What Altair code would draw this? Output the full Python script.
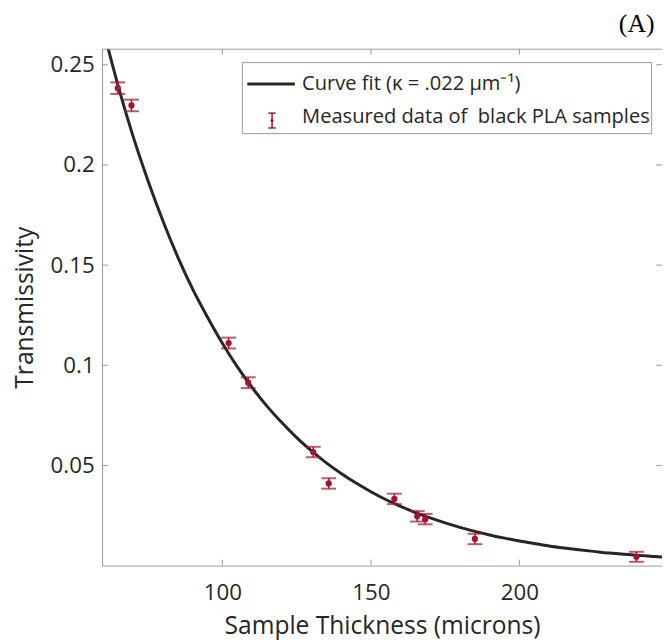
import altair as alt
import pandas as pd

# ---- data ----
thickness = [64.8, 69.4, 102.1, 108.7, 130.6, 135.8, 157.9, 165.6, 168.3, 185.0, 239.4]
transmissivity = [0.2383, 0.2297, 0.1111, 0.0913, 0.0567, 0.0410, 0.0333, 0.0246, 0.0232, 0.0133, 0.0044]
error = [0.0029, 0.0029, 0.0027, 0.0027, 0.0026, 0.0026, 0.0026, 0.0026, 0.0026, 0.0026, 0.0025]

fit_thickness = [59.5, 65, 70, 75, 80, 85, 90, 95, 100, 105, 110, 115, 120, 125, 130, 135,
                 140, 145, 150, 155, 160, 165, 170, 175, 180, 185, 190, 195, 200, 205,
                 210, 215, 220, 225, 230, 235, 240, 245, 250]
fit_transmissivity = [0.270, 0.239, 0.214, 0.192, 0.172, 0.154, 0.138, 0.124, 0.111, 0.0993,
                      0.0889, 0.0796, 0.0714, 0.0639, 0.0573, 0.0513, 0.0460, 0.0412, 0.0369,
                      0.0330, 0.0296, 0.0265, 0.0238, 0.0213, 0.0191, 0.0171, 0.0153, 0.0137,
                      0.0123, 0.0110, 0.0098, 0.0088, 0.0079, 0.0071, 0.0063, 0.0057, 0.0051,
                      0.0046, 0.0041]

x_ticks = [100, 150, 200]
y_ticks = [0.05, 0.1, 0.15, 0.2, 0.25]
legend_labels = ["Curve fit (\u03ba = .022 \u00b5m\u207b\u00b9)", "Measured data of\u00a0 black PLA samples"]
panel_label = "(A)"
x_title = "Sample Thickness (microns)"
y_title = "Transmissivity"

# ---- layout / style ----
X_MIN, X_MAX = 59.5, 248.0
Y_MIN, Y_MAX = 0.0, 0.258
W = (X_MAX - X_MIN) * 3.0
H = 522
AXIS = "#9a9a9a"
TEXT = "#262626"
RED = "#A2142F"
FONT = "Open Sans"

meas = pd.DataFrame({"x": thickness, "y": transmissivity, "e": error})
meas["lo"] = meas["y"] - meas["e"]
meas["hi"] = meas["y"] + meas["e"]
fit = pd.DataFrame({"x": fit_thickness, "y": fit_transmissivity})
xt = pd.DataFrame({"x": x_ticks})
yt = pd.DataFrame({"y": y_ticks})
one = pd.DataFrame({"a": [0]})

xs = alt.Scale(domain=[X_MIN, X_MAX], nice=False, zero=False)
ys = alt.Scale(domain=[Y_MIN, Y_MAX], nice=False, zero=False)

x_axis = alt.Axis(values=x_ticks, format="d", ticks=False, grid=False, domainColor=AXIS,
                  labelPadding=16, title=x_title, titlePadding=10)
y_axis = alt.Axis(values=y_ticks, format="~g", ticks=False, grid=False, domainColor=AXIS,
                  labelPadding=8, title=y_title, titlePadding=13)

curve = alt.Chart(fit).mark_line(clip=True, color=TEXT, strokeWidth=3, interpolate="monotone").encode(
    x=alt.X("x:Q", scale=xs, axis=x_axis),
    y=alt.Y("y:Q", scale=ys, axis=y_axis),
)

bars = alt.Chart(meas).mark_rule(color=RED, strokeWidth=1.5).encode(
    x=alt.X("x:Q", scale=xs), y=alt.Y("lo:Q", scale=ys), y2="hi:Q")
cap_lo = alt.Chart(meas).mark_tick(color=RED, orient="horizontal", size=15, thickness=2).encode(
    x=alt.X("x:Q", scale=xs), y=alt.Y("lo:Q", scale=ys))
cap_hi = alt.Chart(meas).mark_tick(color=RED, orient="horizontal", size=15, thickness=2).encode(
    x=alt.X("x:Q", scale=xs), y=alt.Y("hi:Q", scale=ys))
dots = alt.Chart(meas).mark_circle(color=RED, size=40, opacity=1).encode(
    x=alt.X("x:Q", scale=xs), y=alt.Y("y:Q", scale=ys))

# inward tick marks and top frame
tb = alt.Chart(xt).mark_rule(color=AXIS).encode(x=alt.X("x:Q", scale=xs), y=alt.value(H), y2=alt.value(H - 6))
tt = alt.Chart(xt).mark_rule(color=AXIS).encode(x=alt.X("x:Q", scale=xs), y=alt.value(0), y2=alt.value(6))
tl = alt.Chart(yt).mark_rule(color=AXIS).encode(y=alt.Y("y:Q", scale=ys), x=alt.value(0), x2=alt.value(6))
tr = alt.Chart(yt).mark_rule(color=AXIS).encode(y=alt.Y("y:Q", scale=ys), x=alt.value(W), x2=alt.value(W - 6))
top = alt.Chart(one).mark_rule(color=AXIS).encode(x=alt.value(0), x2=alt.value(W), y=alt.value(0.5))

# legend box
lb = alt.Chart(one).mark_rect(fill="white", stroke=AXIS, strokeWidth=1).encode(
    x=alt.value(141.7), x2=alt.value(555), y=alt.value(14), y2=alt.value(85.7))
l_line = alt.Chart(one).mark_rule(color=TEXT, strokeWidth=3).encode(
    x=alt.value(146.7), x2=alt.value(194.7), y=alt.value(35.7))
l_bar = alt.Chart(one).mark_rule(color=RED, strokeWidth=1.5).encode(
    x=alt.value(171.7), y=alt.value(65), y2=alt.value(80))
l_cap1 = alt.Chart(one).mark_rule(color=RED, strokeWidth=1.5).encode(
    x=alt.value(168), x2=alt.value(175.4), y=alt.value(65))
l_cap2 = alt.Chart(one).mark_rule(color=RED, strokeWidth=1.5).encode(
    x=alt.value(168), x2=alt.value(175.4), y=alt.value(80))
l_dot = alt.Chart(one).mark_circle(color=RED, size=10, opacity=1).encode(
    x=alt.value(171.7), y=alt.value(72.5))
lt = pd.DataFrame({"t": legend_labels, "yy": [35.7, 69]})
l_text = alt.Chart(lt).mark_text(align="left", baseline="middle", font=FONT, fontSize=20.3, color=TEXT).encode(
    x=alt.value(202), y=alt.Y("yy:Q", scale=None), text="t:N")

pl = alt.Chart(pd.DataFrame({"t": [panel_label]})).mark_text(
    align="right", baseline="middle", font="Liberation Serif", fontSize=26, color="black").encode(
    x=alt.value(558), y=alt.value(-25), text="t:N")

chart = alt.layer(
    curve, bars, cap_lo, cap_hi, dots, tb, tt, tl, tr, top,
    lb, l_line, l_bar, l_cap1, l_cap2, l_dot, l_text, pl
).properties(
    width=W, height=H,
    autosize=alt.AutoSizeParams(type="none"),
    padding={"left": 95, "top": 38, "right": 0, "bottom": 74},
).configure_view(stroke=None).configure_axis(
    labelFont=FONT, labelFontSize=22.5, labelColor=TEXT,
    titleFont=FONT, titleFontSize=24.8, titleColor=TEXT, titleFontWeight="normal",
)

chart.save("out.html", embed_options={"renderer": "svg", "actions": False})
